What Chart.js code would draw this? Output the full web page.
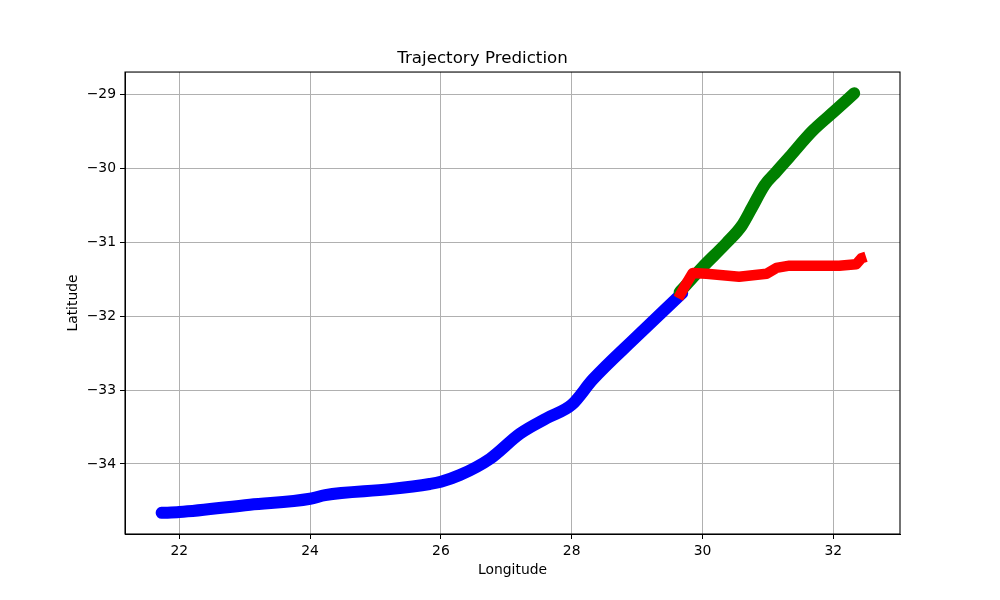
<!DOCTYPE html>
<html>
<head>
<meta charset="utf-8">
<script src="https://cdn.jsdelivr.net/npm/chart.js@4/dist/chart.umd.min.js"></script>
<style>
  body { margin:0; background:#fff; }
  #chart { display:block; }
</style>
</head>
<body>
<canvas id="chart" width="1000" height="600"></canvas>
<script>
// observed track (blue)
const blueLon = [21.73, 22.0, 23.08, 24.0, 24.23, 25.22, 25.83, 26.0, 26.29, 26.75, 27.21, 27.62, 28.0, 28.32, 28.99, 29.69];
const blueLat = [-34.66, -34.65, -34.55, -34.47, -34.42, -34.34, -34.27, -34.24, -34.15, -33.93, -33.59, -33.38, -33.2, -32.86, -32.28, -31.69];
// actual future track (green)
const greenLon = [29.65, 30.0, 30.37, 30.6, 30.76, 30.95, 31.13, 31.33, 31.68, 32.02, 32.32];
const greenLat = [-31.68, -31.34, -31.01, -30.78, -30.53, -30.23, -30.05, -29.85, -29.5, -29.23, -28.99];
// predicted track (red)
const redLon = [29.63, 29.74, 29.85, 30.06, 30.56, 30.98, 31.13, 31.33, 32.09, 32.35, 32.43, 32.5];
const redLat = [-31.76, -31.58, -31.42, -31.43, -31.47, -31.43, -31.35, -31.32, -31.32, -31.3, -31.22, -31.2];

const xTicks = [22, 24, 26, 28, 30, 32];
const yTicks = [-34, -33, -32, -31, -30, -29];

const FONT = 'DejaVu Sans';

function pts(lon, lat)
{
    return lon.map((v, i) => ({x: v, y: lat[i]}));
}

function minus(v)
{
    return String(v).replace('-', '\u2212');
}

// black frame round the plot area, like matplotlib spines
const frame = {
    id: 'frame',
    afterDraw(chart) {
        const a = chart.chartArea, c = chart.ctx;
        c.save();
        c.strokeStyle = '#000';
        c.lineWidth = 1.1;
        c.strokeRect(a.left, a.top, a.right - a.left, a.bottom - a.top);
        c.restore();
    }
};

const track = (data, color, w, cap, smooth) => ({
    data: data,
    showLine: true,
    borderColor: color,
    backgroundColor: color,
    borderWidth: w,
    borderCapStyle: cap,
    borderJoinStyle: 'round',
    pointRadius: 0,
    cubicInterpolationMode: smooth ? 'monotone' : 'default',
    tension: 0
});

new Chart(document.getElementById('chart'), {
    type: 'scatter',
    data: {
        datasets: [
            track(pts(redLon, redLat), '#ff0000', 10.5, 'butt', false),
            track(pts(greenLon, greenLat), '#008000', 12, 'round', true),
            track(pts(blueLon, blueLat), '#0000ff', 12, 'round', true)
        ]
    },
    options: {
        responsive: false,
        animation: false,
        layout: { padding: { left: 65, right: 100, top: 0, bottom: 21 } },
        plugins: {
            legend: { display: false },
            tooltip: { enabled: false },
            title: {
                display: true,
                text: 'Trajectory Prediction',
                color: '#000',
                font: { family: FONT, size: 16.7, weight: 'normal' },
                padding: { top: 49, bottom: 3 }
            }
        },
        scales: {
            x: {
                type: 'linear',
                min: 21.17,
                max: 33.02,
                afterBuildTicks: s => { s.ticks = xTicks.map(v => ({value: v})); },
                afterFit: s => { s.height = 45; },
                ticks: {
                    color: '#000',
                    font: { family: FONT, size: 13.9 },
                    padding: 4,
                    maxRotation: 0,
                    callback: v => minus(v)
                },
                grid: { color: '#b0b0b0', lineWidth: 1, tickColor: '#000', tickLength: 5 },
                border: { color: '#000' },
                title: {
                    display: true,
                    text: 'Longitude',
                    color: '#000',
                    font: { family: FONT, size: 13.9 },
                    padding: 0
                }
            },
            y: {
                type: 'linear',
                min: -34.946,
                max: -28.703,
                afterBuildTicks: s => { s.ticks = yTicks.map(v => ({value: v})); },
                afterFit: s => { s.width = 60; },
                ticks: {
                    color: '#000',
                    font: { family: FONT, size: 13.9 },
                    padding: 4,
                    callback: v => minus(v)
                },
                grid: { color: '#b0b0b0', lineWidth: 1, tickColor: '#000', tickLength: 5 },
                border: { color: '#000' },
                title: {
                    display: true,
                    text: 'Latitude',
                    color: '#000',
                    font: { family: FONT, size: 13.9 },
                    padding: 0
                }
            }
        }
    },
    plugins: [frame]
});
</script>
</body>
</html>
